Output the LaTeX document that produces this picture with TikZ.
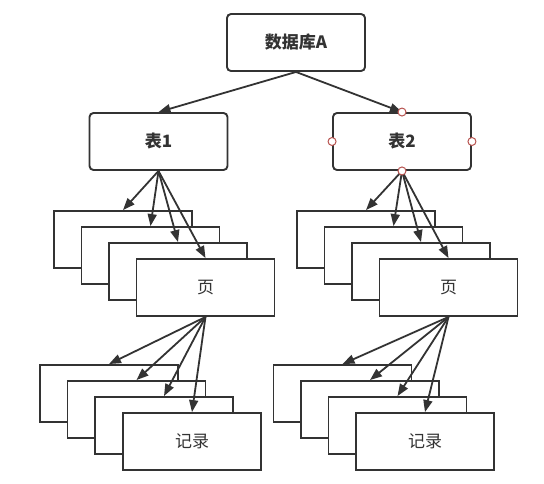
\documentclass[tikz,border=0pt]{standalone}
\usepackage{fontspec}
\newfontfamily\cjk{Noto Sans CJK SC}
\usepackage{tikz}
\usetikzlibrary{arrows.meta}
\usetikzlibrary{positioning}
\definecolor{linegray}{HTML}{333333}
\definecolor{handlered}{HTML}{B85450}
\tikzstyle{box}=[draw=linegray, fill=white, line width=1.9pt, minimum width=138pt,
    minimum height=57pt, inner sep=0pt, text=linegray, font=\cjk\fontsize{17}{20}\selectfont]
\tikzstyle{titlebox}=[box, rounded corners=4pt, font=\cjk\bfseries\fontsize{17}{20}\selectfont]
\tikzstyle{link}=[draw=linegray, line width=1.8pt, -{Triangle[length=12pt,width=9pt]}]
\tikzstyle{handle}=[circle, draw=handlered, fill=white, line width=1pt,
    minimum size=8pt, inner sep=0pt]

\begin{document}
\begin{tikzpicture}[x=1pt, y=-1pt]
          \useasboundingbox (0,0) rectangle (544,483);
          % database and tables
          \node[titlebox] (db) at (296,42.5){数据库A};
          \node[titlebox] (tbl1) at (158.5,141.5){表1};
          \node[titlebox] (tbl2) at (402,141.5){表2};
          % pages of table 1
          \node[box] (pgA1) at (123,239.5){};
          \node[box] (pgA2) at (150.5,255.5){};
          \node[box] (pgA3) at (178,271.5){};
          \node[box] (pgA4) at (205.5,287.5){页};
          % pages of table 2
          \node[box] (pgB1) at (366,239.5){};
          \node[box] (pgB2) at (393.5,255.5){};
          \node[box] (pgB3) at (421,271.5){};
          \node[box] (pgB4) at (448.5,287.5){页};
          % records
          \node[box] (recA1) at (109,393.5){};
          \node[box] (recA2) at (136.5,409.5){};
          \node[box] (recA3) at (164,425.5){};
          \node[box] (recA4) at (192,441.5){记录};
          \node[box] (recB1) at (342.5,393.5){};
          \node[box] (recB2) at (370,409.5){};
          \node[box] (recB3) at (397.5,425.5){};
          \node[box] (recB4) at (425,441.5){记录};
          \draw[link](db.south) -- (tbl1.north);
          \draw[link](db.south) -- (tbl2.north);
          \draw[link](tbl1.south) -- (pgA1.north);
          \draw[link](tbl1.south) -- (pgA2.north);
          \draw[link](tbl1.south) -- (pgA3.north);
          \draw[link](tbl1.south) -- (pgA4.north);
          \draw[link](tbl2.south) -- (pgB1.north);
          \draw[link](tbl2.south) -- (pgB2.north);
          \draw[link](tbl2.south) -- (pgB3.north);
          \draw[link](tbl2.south) -- (pgB4.north);
          \draw[link](pgA4.south) -- (recA1.north);
          \draw[link](pgA4.south) -- (recA2.north);
          \draw[link](pgA4.south) -- (recA3.north);
          \draw[link](pgA4.south) -- (recA4.north);
          \draw[link](pgB4.south) -- (recB1.north);
          \draw[link](pgB4.south) -- (recB2.north);
          \draw[link](pgB4.south) -- (recB3.north);
          \draw[link](pgB4.south) -- (recB4.north);
          % selection handles on table 2
          \node[handle] (hN) at (tbl2.north){};
          \node[handle] (hS) at (tbl2.south){};
          \node[handle] (hW) at (tbl2.west){};
          \node[handle] (hE) at (tbl2.east){};
        \end{tikzpicture}
\end{document}
